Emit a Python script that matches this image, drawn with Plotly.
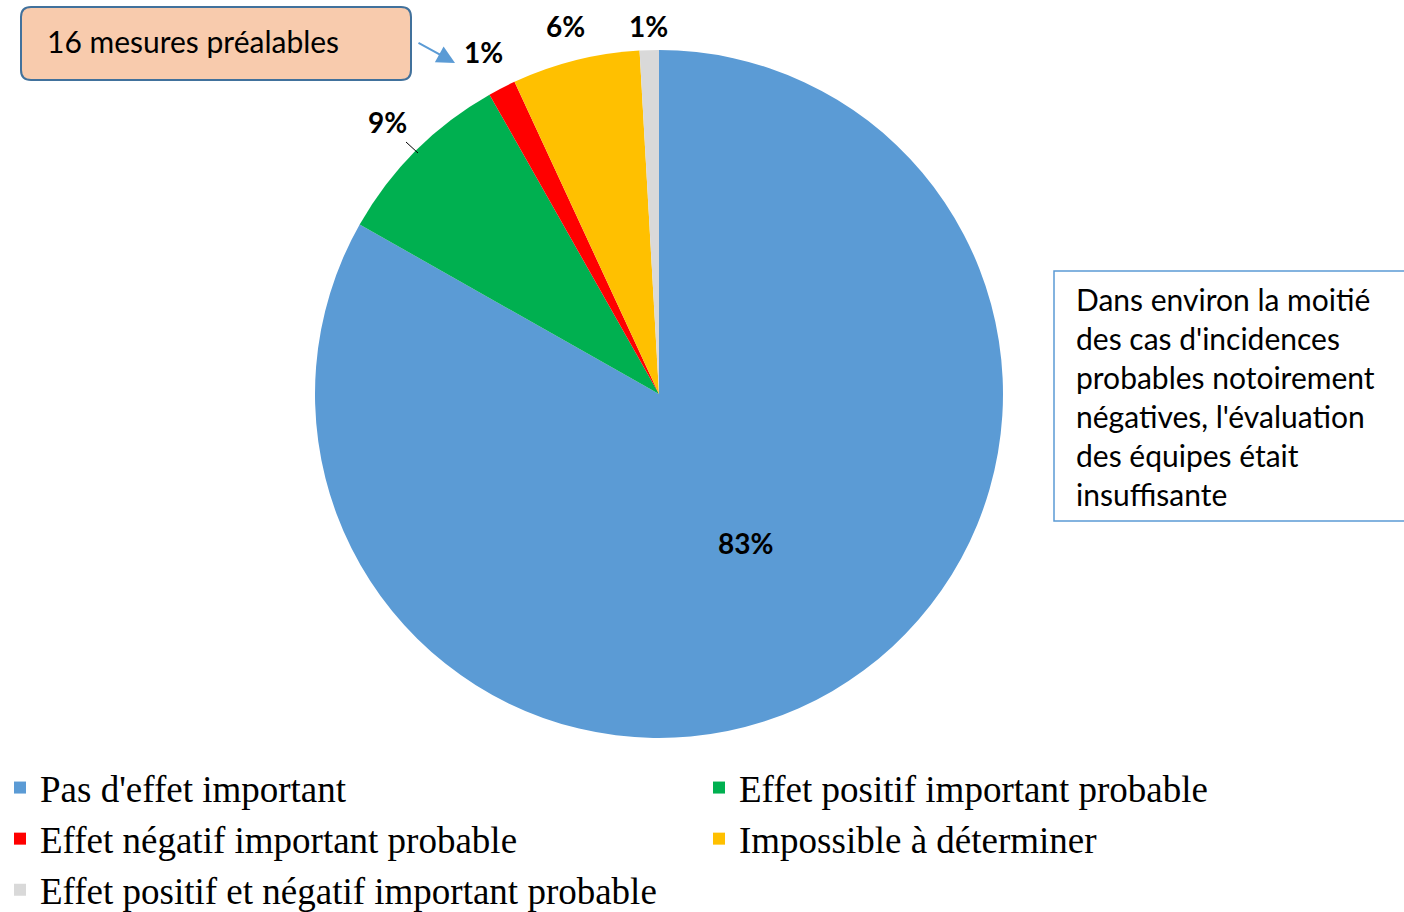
import math
import plotly.graph_objects as go

W, H = 1404, 912

categories = [
    "Pas d'effet important",
    "Effet positif important probable",
    "Effet négatif important probable",
    "Impossible à déterminer",
    "Effet positif et négatif important probable",
]
values = [83.2, 8.6, 1.3, 6.0, 0.9]
colors = ["#5B9BD5", "#00B050", "#FF0000", "#FFC000", "#D9D9D9"]

callout_text = "16 mesures préalables"
note_lines = [
    "Dans environ la moitié",
    "des cas d'incidences",
    "probables notoirement",
    "négatives, l'évaluation",
    "des équipes était",
    "insuffisante",
]

def px_x(v):
    return v / W

def px_y(v):
    return 1 - v / H

cx, cy, r = 659, 394, 344

fig = go.Figure(go.Pie(
    labels=categories,
    values=values,
    sort=False,
    direction="clockwise",
    rotation=0,
    marker=dict(colors=colors, line=dict(width=0)),
    textinfo="none",
    domain=dict(x=[px_x(cx - r), px_x(cx + r)], y=[px_y(cy + r), px_y(cy - r)]),
    hoverinfo="label+percent",
))

# percentage labels placed at each slice's mid-angle (derived from the values)
total = sum(values)
label_annotations = []
cum = 0.0
for i, v in enumerate(values):
    mid = (cum + v / 2) / total * 2 * math.pi
    cum += v
    rad = 0.5 * r if i == 0 else r + 40
    lx = cx + rad * math.sin(mid)
    ly = cy - rad * math.cos(mid)
    ly = max(ly, 26)
    label_annotations.append(dict(
        text=f"{round(v / total * 100)}%", xref="paper", yref="paper",
        x=px_x(lx), y=px_y(ly), xanchor="center", yanchor="middle",
        showarrow=False,
        font=dict(family="Lato", size=28, color="black", weight="bold"),
    ))

# rounded callout box
x0, x1, y0, y1, rr = 21, 411, 7, 80, 10
def P(x, y):
    return f"{px_x(x)},{px_y(y)}"
path = (f"M {P(x0+rr, y0)} L {P(x1-rr, y0)} Q {P(x1, y0)} {P(x1, y0+rr)} "
        f"L {P(x1, y1-rr)} Q {P(x1, y1)} {P(x1-rr, y1)} "
        f"L {P(x0+rr, y1)} Q {P(x0, y1)} {P(x0, y1-rr)} "
        f"L {P(x0, y0+rr)} Q {P(x0, y0)} {P(x0+rr, y0)} Z")

shapes = [
    dict(type="path", xref="paper", yref="paper", path=path,
         fillcolor="#F8CBAD", line=dict(color="#41719C", width=2)),
    dict(type="rect", xref="paper", yref="paper",
         x0=px_x(1054), x1=px_x(1420), y0=px_y(521), y1=px_y(271),
         fillcolor="white", line=dict(color="#5B9BD5", width=1.5)),
    dict(type="line", xref="paper", yref="paper",
         x0=px_x(406), y0=px_y(142), x1=px_x(418), y1=px_y(153),
         line=dict(color="black", width=1)),
]

annotations = label_annotations + [
    dict(text=callout_text, xref="paper", yref="paper", x=px_x(45), y=px_y(41),
         xanchor="left", yanchor="middle", showarrow=False,
         font=dict(family="Lato", size=30, color="black")),
    dict(text="", xref="paper", yref="paper", axref="pixel", ayref="pixel",
         x=px_x(455), y=px_y(63), ax=-38, ay=-21,
         showarrow=True, arrowhead=2, arrowsize=1.8, arrowwidth=2,
         arrowcolor="#5B9BD5"),
    dict(text="<br>".join(note_lines), xref="paper", yref="paper",
         x=px_x(1074), y=px_y(396), xanchor="left", yanchor="middle",
         align="left", showarrow=False,
         font=dict(family="Lato", size=30, color="black")),
]

fig.update_layout(
    width=W, height=H,
    margin=dict(l=0, r=0, t=0, b=0, autoexpand=False),
    paper_bgcolor="white",
    plot_bgcolor="white",
    shapes=shapes,
    annotations=annotations,
    showlegend=True,
    legend=dict(
        orientation="h",
        x=0.0, y=px_y(757), xanchor="left", yanchor="top",
        entrywidth=654, entrywidthmode="pixels",
        font=dict(family="Liberation Serif", size=37, color="black"),
        itemwidth=30, tracegroupgap=0,
    ),
)

fig.write_html(
    "out.html",
    config={"displayModeBar": False},
    post_script="document.body.style.margin='0';document.body.style.overflow='hidden';",
)
